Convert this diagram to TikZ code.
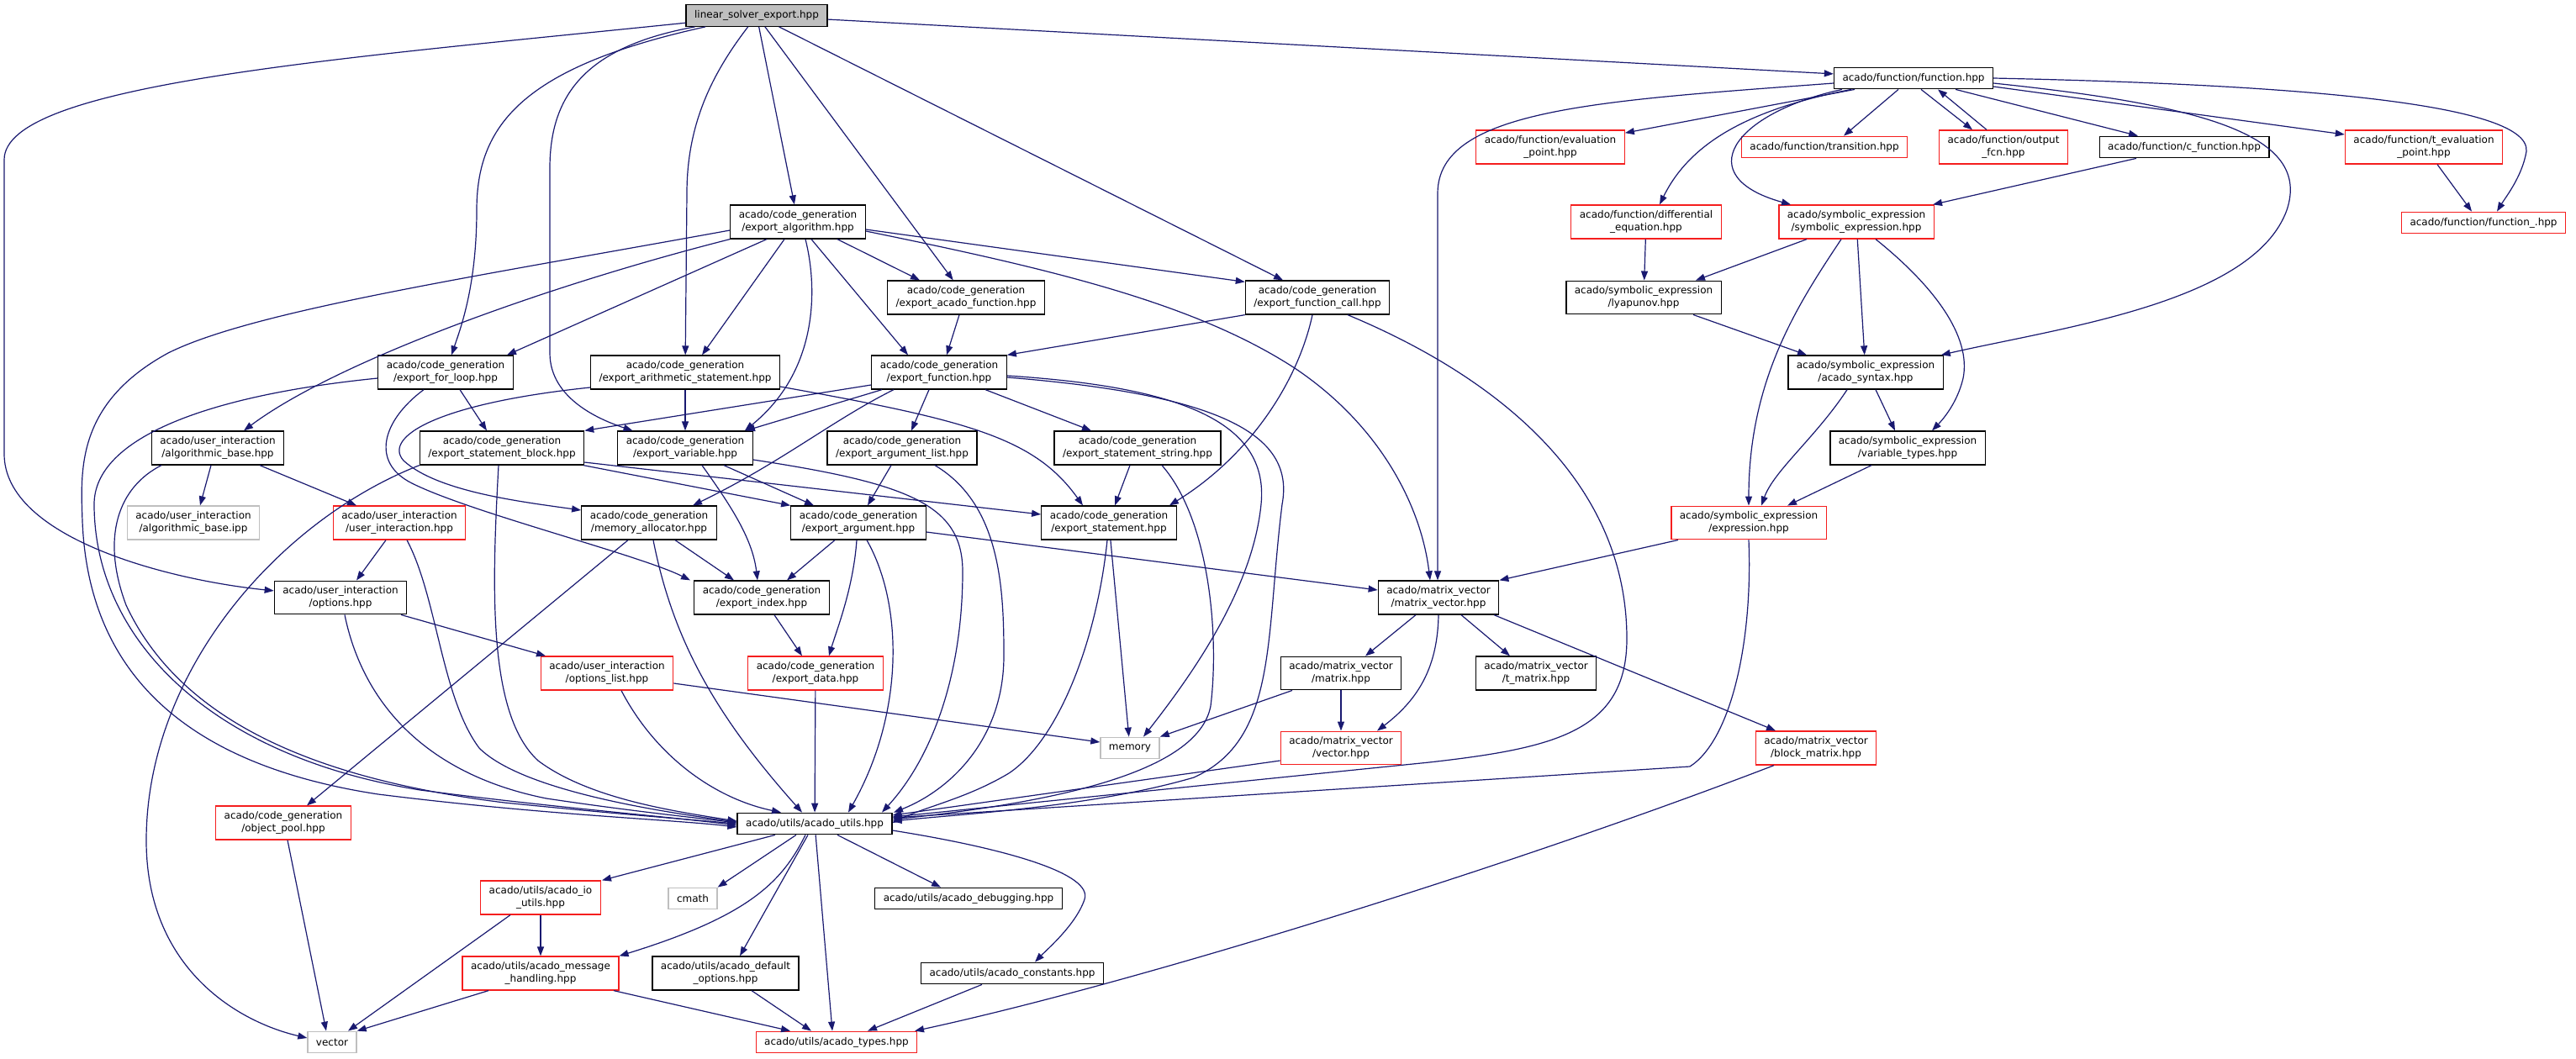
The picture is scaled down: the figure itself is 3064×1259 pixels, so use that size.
\documentclass[tikz,border=0pt]{standalone}
\usepackage{fontspec}
\setmainfont{DejaVu Sans}
\usetikzlibrary{arrows.meta}
\definecolor{edgeblue}{RGB}{25,25,112}
\definecolor{truncred}{RGB}{245,30,30}
\definecolor{extgray}{RGB}{191,191,191}

\begin{document}
\begin{tikzpicture}[x=1pt,y=-1pt,>={Triangle[length=11pt,width=8pt]},
    file/.style={rectangle, draw=black, fill=white, line width=1.3pt, align=center,
                 inner xsep=10pt, inner ysep=6.5pt, minimum height=25.5pt,
                 font=\fontsize{12}{15}\selectfont},
    trunc/.style={file, draw=truncred},
    ext/.style={file, draw=extgray},
    main/.style={file, fill=extgray},
    dep/.style={->, draw=edgeblue, line width=1.2pt}]
  \path[fill=white] (0,0) rectangle (3064,1259);

  % Nodes
  \node[main] (root) at (900,18.5) {linear\_solver\_export.hpp};
  \node[file] (function) at (2276,93) {acado/function/function.hpp};
  \node[trunc] (evalpt) at (1844,175) {acado/function/evaluation\\\_point.hpp};
  \node[trunc] (transition) at (2170,175) {acado/function/transition.hpp};
  \node[trunc] (outputfcn) at (2383,175) {acado/function/output\\\_fcn.hpp};
  \node[file] (cfunction) at (2598,175) {acado/function/c\_function.hpp};
  \node[trunc] (tevalpt) at (2883,175) {acado/function/t\_evaluation\\\_point.hpp};
  \node[trunc] (functionu) at (2954,265) {acado/function/function\_.hpp};
  \node[trunc] (diffeq) at (1958,264) {acado/function/differential\\\_equation.hpp};
  \node[trunc] (symexpr) at (2208,264) {acado/symbolic\_expression\\/symbolic\_expression.hpp};
  \node[file] (algorithm) at (949,264) {acado/code\_generation\\/export\_algorithm.hpp};
  \node[file] (acadofunc) at (1149,354) {acado/code\_generation\\/export\_acado\_function.hpp};
  \node[file] (funccall) at (1567,354) {acado/code\_generation\\/export\_function\_call.hpp};
  \node[file] (lyapunov) at (1955,354) {acado/symbolic\_expression\\/lyapunov.hpp};
  \node[file] (forloop) at (530,443) {acado/code\_generation\\/export\_for\_loop.hpp};
  \node[file] (arith) at (815,443) {acado/code\_generation\\/export\_arithmetic\_statement.hpp};
  \node[file] (exportfunc) at (1117,443) {acado/code\_generation\\/export\_function.hpp};
  \node[file] (syntax) at (2219,443) {acado/symbolic\_expression\\/acado\_syntax.hpp};
  \node[file] (algobase) at (259,533) {acado/user\_interaction\\/algorithmic\_base.hpp};
  \node[file] (stmtblock) at (597,533) {acado/code\_generation\\/export\_statement\_block.hpp};
  \node[file] (variable) at (815,533) {acado/code\_generation\\/export\_variable.hpp};
  \node[file] (arglist) at (1073,533) {acado/code\_generation\\/export\_argument\_list.hpp};
  \node[file] (stmtstring) at (1353,533) {acado/code\_generation\\/export\_statement\_string.hpp};
  \node[file] (vartypes) at (2269,533) {acado/symbolic\_expression\\/variable\_types.hpp};
  \node[ext] (algobaseipp) at (230,622) {acado/user\_interaction\\/algorithmic\_base.ipp};
  \node[trunc] (userinter) at (475,622) {acado/user\_interaction\\/user\_interaction.hpp};
  \node[file] (memalloc) at (772,622) {acado/code\_generation\\/memory\_allocator.hpp};
  \node[file] (argument) at (1021,622) {acado/code\_generation\\/export\_argument.hpp};
  \node[file] (statement) at (1319,622) {acado/code\_generation\\/export\_statement.hpp};
  \node[trunc] (expression) at (2080,622) {acado/symbolic\_expression\\/expression.hpp};
  \node[file] (options) at (405,711) {acado/user\_interaction\\/options.hpp};
  \node[file] (index) at (906,711) {acado/code\_generation\\/export\_index.hpp};
  \node[file] (matvec) at (1711,711) {acado/matrix\_vector\\/matrix\_vector.hpp};
  \node[trunc] (optlist) at (722,801) {acado/user\_interaction\\/options\_list.hpp};
  \node[trunc] (data) at (970,801) {acado/code\_generation\\/export\_data.hpp};
  \node[file] (matrix) at (1595,801) {acado/matrix\_vector\\/matrix.hpp};
  \node[file] (tmatrix) at (1827,801) {acado/matrix\_vector\\/t\_matrix.hpp};
  \node[ext] (memory) at (1344,890) {memory};
  \node[trunc] (vectorh) at (1595,890) {acado/matrix\_vector\\/vector.hpp};
  \node[trunc] (blockmat) at (2160,890) {acado/matrix\_vector\\/block\_matrix.hpp};
  \node[trunc] (objpool) at (337,979) {acado/code\_generation\\/object\_pool.hpp};
  \node[file] (utils) at (969,980) {acado/utils/acado\_utils.hpp};
  \node[trunc] (ioutils) at (643,1068) {acado/utils/acado\_io\\\_utils.hpp};
  \node[ext] (cmath) at (824,1069) {cmath};
  \node[file] (debugging) at (1152,1069) {acado/utils/acado\_debugging.hpp};
  \node[trunc] (msghandling) at (643,1158) {acado/utils/acado\_message\\\_handling.hpp};
  \node[file] (defaultopts) at (863,1158) {acado/utils/acado\_default\\\_options.hpp};
  \node[file] (constants) at (1204,1158) {acado/utils/acado\_constants.hpp};
  \node[ext] (vector) at (395,1240) {vector};
  \node[trunc] (types) at (995,1240) {acado/utils/acado\_types.hpp};

  % Edges from the root file
  \draw[dep] (root) -- (function);
  \draw[dep] (root) .. controls (400,70) and (5,100) .. (5,190) -- (5,540) .. controls (5,640) and (200,690) .. (options);
  \draw[dep] (root) .. controls (620,80) and (567,150) .. (567,250) .. controls (567,340) and (548,390) .. (forloop);
  \draw[dep] (root) .. controls (700,55) and (654,110) .. (654,200) -- (654,420) .. controls (654,475) and (715,500) .. (variable);
  \draw[dep] (root) .. controls (845,90) and (817,150) .. (817,230) -- (arith);
  \draw[dep] (root) -- (algorithm);
  \draw[dep] (root) -- (acadofunc);
  \draw[dep] (root) -- (funccall);

  % Edges of acado/function
  \draw[dep] ([xshift=-70pt]function.south) -- (evalpt);
  \draw[dep] ([xshift=-18pt]function.south) -- ([xshift=23pt]transition.north);
  \draw[dep] ([xshift=9pt]function.south) -- ([xshift=-37pt]outputfcn.north);
  \draw[dep] ([xshift=-20pt]outputfcn.north) -- ([xshift=29pt]function.south);
  \draw[dep] ([xshift=50pt]function.south) -- ([xshift=-55pt]cfunction.north);
  \draw[dep] ([yshift=-10pt]function.east) -- ([yshift=15pt]tevalpt.west);
  \draw[dep] (function.east) .. controls (2700,100) and (3010,120) .. (3005,180) .. controls (3000,210) and (2980,235) .. ([xshift=16pt]functionu.north);
  \draw[dep] ([yshift=-6pt]function.east) .. controls (2620,125) and (2750,160) .. (2720,250) .. controls (2680,360) and (2450,390) .. ([xshift=-3pt]syntax.north east);
  \draw[dep] ([xshift=-85pt]function.south) .. controls (2060,135) and (2010,210) .. ([xshift=-78pt]symexpr.north);
  \draw[dep] ([xshift=-74pt]function.south) .. controls (2080,130) and (2010,170) .. ([xshift=16pt]diffeq.north);
  \draw[dep] ([yshift=-6pt]function.west) .. controls (1900,120) and (1710,130) .. (1710,230) -- ([xshift=-1pt]matvec.north);
  \draw[dep] ([xshift=-57pt]cfunction.south) -- ([xshift=91pt]symexpr.north);
  \draw[dep] ([xshift=16pt]tevalpt.south) -- ([xshift=-14pt]functionu.north);
  \draw[dep] (diffeq) -- (lyapunov);

  % Edges of acado/symbolic_expression
  \draw[dep] ([xshift=-59pt]symexpr.south) -- ([xshift=62pt]lyapunov.north);
  \draw[dep] ([xshift=-18pt]symexpr.south) .. controls (2140,360) and (2080,450) .. (expression.north);
  \draw[dep] (symexpr) -- (syntax);
  \draw[dep] ([xshift=23pt]symexpr.south) .. controls (2300,340) and (2345,400) .. (2335,450) .. controls (2328,480) and (2310,500) .. ([xshift=29pt]vartypes.north);
  \draw[dep] ([xshift=59pt]lyapunov.south) -- ([xshift=-70pt]syntax.north);
  \draw[dep] ([xshift=12pt]syntax.south) -- ([xshift=-15pt]vartypes.north);
  \draw[dep] ([xshift=-22pt]syntax.south) .. controls (2160,520) and (2110,560) .. ([xshift=15pt]expression.north);
  \draw[dep] ([xshift=-43pt]vartypes.south) -- ([xshift=46pt]expression.north);
  \draw[dep] ([xshift=-84pt]expression.south) -- (matvec.north east);
  \draw[dep] (expression.south) .. controls (2085,760) and (2060,880) .. (2010,912) -- ([yshift=7pt]utils.east);

  % Edges of acado/matrix_vector
  \draw[dep] ([xshift=-27pt]matvec.south) -- ([xshift=29pt]matrix.north);
  \draw[dep] ([xshift=27pt]matvec.south) -- ([xshift=-31pt]tmatrix.north);
  \draw[dep] (matvec.south) .. controls (1710,790) and (1690,830) .. ([xshift=43pt]vectorh.north);
  \draw[dep] ([xshift=66pt]matvec.south) -- ([xshift=-48pt]blockmat.north);
  \draw[dep] ([xshift=-58pt]matrix.south) -- (memory.north east);
  \draw[dep] (matrix) -- (vectorh);
  \draw[dep] ([yshift=-15pt]vectorh.west) -- ([yshift=10pt]utils.east);
  \draw[dep] ([xshift=-50pt]blockmat.south) .. controls (1800,1030) and (1350,1170) .. ([xshift=93pt]types.north);

  % Edges of acado/code_generation
  \draw[dep] ([xshift=-37pt]algorithm.south) -- ([xshift=73pt]forloop.north);
  \draw[dep] ([xshift=-16pt]algorithm.south) -- ([xshift=20pt]arith.north);
  \draw[dep] ([xshift=47pt]algorithm.south) -- ([xshift=-55pt]acadofunc.north);
  \draw[dep] ([xshift=16pt]algorithm.south) -- ([xshift=-37pt]exportfunc.north);
  \draw[dep] ([xshift=9pt]algorithm.south) .. controls (972,340) and (975,440) .. ([xshift=-10pt]variable.north east);
  \draw[dep] (algorithm.south west) .. controls (650,340) and (400,430) .. ([xshift=31pt]algobase.north);
  \draw[dep] ([yshift=-10pt]algorithm.west) .. controls (560,330) and (300,370) .. (200,420) .. controls (90,480) and (96,560) .. (98,620) .. controls (105,800) and (220,910) .. (450,945) .. controls (650,970) and (800,975) .. ([yshift=-4pt]utils.west);
  \draw[dep] ([yshift=-9pt]algorithm.east) -- ([yshift=-2pt]funccall.north west);
  \draw[dep] ([yshift=-11pt]algorithm.east) .. controls (1250,320) and (1420,360) .. (1540,438) .. controls (1640,505) and (1690,600) .. ([xshift=-10pt]matvec.north);
  \draw[dep] ([xshift=-8pt]acadofunc.south) -- ([xshift=9pt]exportfunc.north);
  \draw[dep] (funccall.south west) -- (exportfunc.north east);
  \draw[dep] ([xshift=-6pt]funccall.south) .. controls (1545,450) and (1490,540) .. ([xshift=-9pt]statement.north east);
  \draw[dep] ([xshift=36pt]funccall.south) .. controls (1760,440) and (1935,560) .. (1935,760) .. controls (1935,870) and (1850,890) .. (1700,907) -- ([yshift=8pt]utils.east);
  \draw[dep] ([yshift=-15pt]exportfunc.west) -- (stmtblock.north east);
  \draw[dep] ([xshift=-68pt]exportfunc.south) -- ([xshift=72pt]variable.north);
  \draw[dep] ([xshift=-54pt]exportfunc.south) .. controls (990,500) and (930,550) .. ([xshift=52pt]memalloc.north);
  \draw[dep] ([xshift=-12pt]exportfunc.south) -- ([xshift=11pt]arglist.north);
  \draw[dep] ([xshift=55pt]exportfunc.south) -- ([xshift=-55pt]stmtstring.north);
  \draw[dep] ([yshift=-4pt]exportfunc.east) .. controls (1400,460) and (1510,500) .. (1500,600) .. controls (1490,700) and (1420,800) .. ([xshift=16pt]memory.north);
  \draw[dep] ([yshift=-6pt]exportfunc.east) .. controls (1460,470) and (1540,520) .. (1525,600) .. controls (1505,760) and (1520,880) .. (1420,925) .. controls (1300,960) and (1150,968) .. ([yshift=3pt]utils.east);
  \draw[dep] ([xshift=17pt]forloop.south) -- ([xshift=-18pt]stmtblock.north);
  \draw[dep] ([xshift=-26pt]forloop.south) .. controls (455,500) and (440,550) .. (490,575) .. controls (560,610) and (760,660) .. ([xshift=-85pt]index.north);
  \draw[dep] ([yshift=-7pt]forloop.west) .. controls (250,470) and (112,520) .. (112,600) .. controls (112,760) and (250,900) .. (500,940) .. controls (650,960) and (800,972) .. ([yshift=-2pt]utils.west);
  \draw[dep] (arith) -- (variable);
  \draw[dep] ([yshift=-18pt]arith.west) .. controls (520,480) and (455,520) .. (480,548) .. controls (520,585) and (620,597) .. ([yshift=15pt]memalloc.west);
  \draw[dep] ([yshift=-17pt]arith.east) .. controls (1150,500) and (1230,520) .. ([xshift=-31pt]statement.north);
  \draw[dep] ([xshift=97pt]stmtblock.south) -- (argument.north west);
  \draw[dep] ([yshift=-17pt]stmtblock.east) -- ([yshift=10pt]statement.west);
  \draw[dep] (stmtblock.south west) .. controls (330,620) and (174,800) .. (174,1000) .. controls (174,1150) and (280,1215) .. ([yshift=5pt]vector.west);
  \draw[dep] ([xshift=-4pt]stmtblock.south) .. controls (585,700) and (580,850) .. (640,905) .. controls (700,950) and (800,965) .. ([yshift=3pt]utils.west);
  \draw[dep] ([xshift=20pt]variable.south) .. controls (868,600) and (895,640) .. ([xshift=-5pt]index.north);
  \draw[dep] ([xshift=46pt]variable.south) -- ([xshift=-53pt]argument.north);
  \draw[dep] ([yshift=-14pt]variable.east) .. controls (1080,575) and (1145,600) .. (1145,680) .. controls (1145,800) and (1110,900) .. ([xshift=80pt]utils.north);
  \draw[dep] ([xshift=-13pt]arglist.south) -- ([xshift=11pt]argument.north);
  \draw[dep] ([xshift=39pt]arglist.south) .. controls (1190,600) and (1194,700) .. (1194,780) .. controls (1194,880) and (1130,940) .. ([xshift=94pt]utils.north);
  \draw[dep] ([xshift=-9pt]stmtstring.south) -- ([xshift=7pt]statement.north);
  \draw[dep] ([xshift=29pt]stmtstring.south) .. controls (1440,620) and (1450,760) .. (1440,840) .. controls (1425,920) and (1250,955) .. ([yshift=5pt]utils.east);
  \draw[dep] ([xshift=31pt]memalloc.south) -- ([xshift=-33pt]index.north);
  \draw[dep] ([xshift=-25pt]memalloc.south) -- ([xshift=28pt]objpool.north);
  \draw[dep] ([xshift=5pt]memalloc.south) .. controls (800,760) and (850,850) .. ([xshift=-15pt]utils.north);
  \draw[dep] ([xshift=-28pt]argument.south) -- ([xshift=30pt]index.north);
  \draw[dep] ([xshift=-2pt]argument.south) .. controls (1015,700) and (995,750) .. ([xshift=16pt]data.north);
  \draw[dep] ([xshift=10pt]argument.south) .. controls (1075,720) and (1075,850) .. ([xshift=40pt]utils.north);
  \draw[dep] ([yshift=-11pt]argument.east) -- ([yshift=9pt]matvec.west);
  \draw[dep] (statement) -- (memory);
  \draw[dep] ([xshift=-2pt]statement.south) .. controls (1305,760) and (1260,880) .. (1200,920) .. controls (1150,950) and (1100,960) .. ([yshift=1pt]utils.east);
  \draw[dep] ([xshift=15pt]index.south) -- ([xshift=-16pt]data.north);
  \draw[dep] (data) -- (utils);
  \draw[dep] ([xshift=5pt]objpool.south) -- ([xshift=-7pt]vector.north);

  % Edges of acado/user_interaction
  \draw[dep] ([xshift=-8pt]algobase.south) -- ([xshift=8pt]algobaseipp.north);
  \draw[dep] ([xshift=50pt]algobase.south) -- ([xshift=-51pt]userinter.north);
  \draw[dep] ([xshift=-67pt]algobase.south) .. controls (140,580) and (120,640) .. (150,720) .. controls (220,870) and (400,930) .. (600,955) .. controls (750,970) and (820,975) .. (utils.west);
  \draw[dep] ([xshift=-16pt]userinter.south) -- ([xshift=19pt]options.north);
  \draw[dep] ([xshift=9pt]userinter.south) .. controls (520,710) and (525,830) .. (570,890) .. controls (620,940) and (780,965) .. ([yshift=2pt]utils.west);
  \draw[dep] ([xshift=72pt]options.south) -- ([xshift=-73pt]optlist.north);
  \draw[dep] ([xshift=5pt]options.south) .. controls (430,830) and (500,920) .. (650,950) .. controls (750,965) and (820,972) .. ([yshift=1pt]utils.west);
  \draw[dep] ([yshift=-12pt]optlist.east) -- ([yshift=7pt]memory.west);
  \draw[dep] ([xshift=17pt]optlist.south) .. controls (780,900) and (850,950) .. ([xshift=-40pt]utils.north);

  % Edges of acado/utils
  \draw[dep] ([xshift=-47pt]utils.south) -- ([xshift=73pt]ioutils.north);
  \draw[dep] ([xshift=-22pt]utils.south) -- (cmath.north east);
  \draw[dep] ([xshift=-11pt]utils.south) .. controls (930,1050) and (890,1090) .. (msghandling.north east);
  \draw[dep] ([xshift=-8pt]utils.south) -- ([xshift=17pt]defaultopts.north);
  \draw[dep] (utils) -- ([xshift=-5pt]types.north);
  \draw[dep] ([xshift=27pt]utils.south) -- ([xshift=-33pt]debugging.north);
  \draw[dep] ([yshift=-8pt]utils.east) .. controls (1200,1010) and (1300,1040) .. (1290,1070) .. controls (1280,1100) and (1245,1130) .. ([xshift=27pt]constants.north);
  \draw[dep] (ioutils) -- (msghandling);
  \draw[dep] ([xshift=-36pt]ioutils.south) -- ([xshift=19pt]vector.north);
  \draw[dep] ([xshift=-62pt]msghandling.south) -- (vector.north east);
  \draw[dep] ([xshift=87pt]msghandling.south) -- ([xshift=-55pt]types.north);
  \draw[dep] ([xshift=31pt]defaultopts.south) -- ([xshift=-30pt]types.north);
  \draw[dep] ([xshift=-36pt]constants.south) -- ([xshift=37pt]types.north);
\end{tikzpicture}
\end{document}
